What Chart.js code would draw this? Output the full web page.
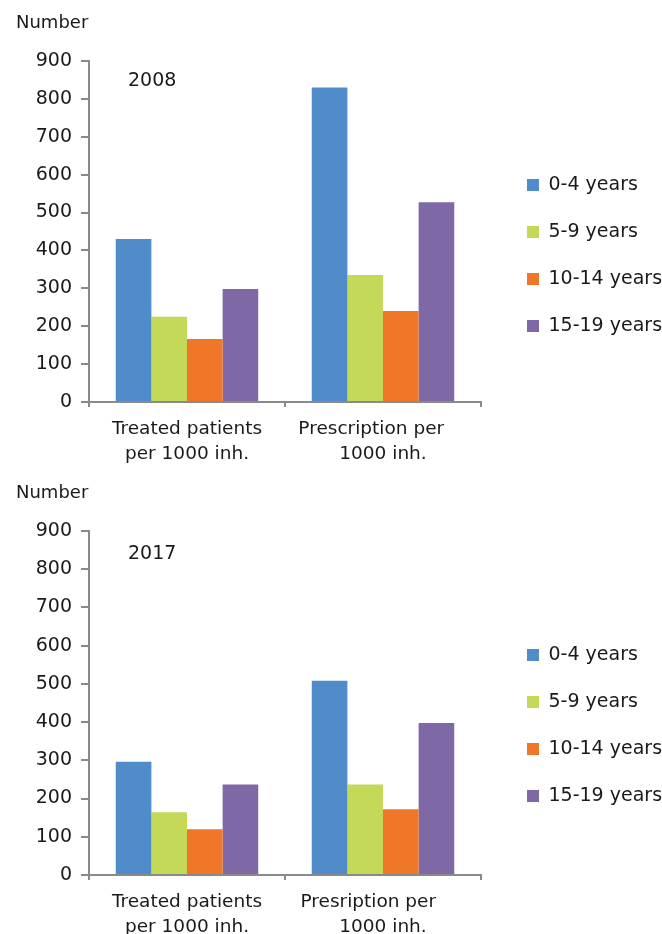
<!DOCTYPE html>
<html>
<head>
<meta charset="utf-8">
<script src="https://cdn.jsdelivr.net/npm/chart.js@4"></script>
<style>
  html, body { margin: 0; padding: 0; background: #fff; overflow: hidden; width: 662px; height: 934px; }
  .panel { position: absolute; left: 0; width: 720px; }
</style>
</head>
<body>
<div class="panel" style="top:0;height:470px"><canvas id="chart2008" width="720" height="470"></canvas></div>
<div class="panel" style="top:470px;height:464px"><canvas id="chart2017" width="720" height="464"></canvas></div>
<script>
const ageGroups = ["0-4 years", "5-9 years", "10-14 years", "15-19 years"];
const colores = ["#508CC9", "#C4D957", "#F07628", "#7E68A6"];

const categorias2008 = [["Treated patients", "per 1000 inh."], ["Prescription per    ", "1000 inh."]];
const categorias2017 = [["Treated patients", "per 1000 inh."], ["Presription per     ", "1000 inh."]];

// valores por grupo de edad: [tratados, prescripciones]
const edad0a4_2008 = [430, 830];
const edad5a9_2008 = [225, 335];
const edad10a14_2008 = [166, 240];
const edad15a19_2008 = [298, 527];

const edad0a4_2017 = [296, 508];
const edad5a9_2017 = [164, 237];
const edad10a14_2017 = [120, 172];
const edad15a19_2017 = [237, 398];

const yTicks = [0, 100, 200, 300, 400, 500, 600, 700, 800, 900];

const fuente = "'DejaVu Sans', sans-serif";
Chart.defaults.font.family = fuente;
Chart.defaults.color = "#1a1a1a";

// ancho de la leyenda para dejar el eje x terminando en x=481
const anchoCanvas = 720;
const legendaIzq = 499;
const medidor = document.createElement("canvas").getContext("2d");
medidor.font = "19px " + fuente;
const textoMax = Math.max(...ageGroups.map((t) => medidor.measureText(t).width));
const anchoLeyenda = 28 + 12 + 9.5 + textoMax + 10;
const paddingDer = anchoCanvas - legendaIzq - anchoLeyenda;

const etiquetaAño = {
  id: "etiquetaAño",
  afterDraw(chart, args, opts) {
    const ctx = chart.ctx;
    ctx.save();
    ctx.font = "19px " + fuente;
    ctx.fillStyle = "#1a1a1a";
    ctx.textBaseline = "middle";
    ctx.fillText(opts.text, chart.chartArea.left + opts.dx, chart.chartArea.top + opts.dy);
    ctx.restore();
  },
};

function crearGrafico(id, año, categorias, series, xAltura, dy) {
  const ctx = document.getElementById(id).getContext("2d");
  return new Chart(ctx, {
    type: "bar",
    data: {
      labels: categorias,
      datasets: series.map((s, i) => ({
        label: ageGroups[i],
        data: s,
        backgroundColor: colores[i],
        borderWidth: 0,
        barPercentage: 1.0,
        categoryPercentage: 0.727,
      })),
    },
    plugins: [etiquetaAño],
    options: {
      responsive: false,
      animation: false,
      devicePixelRatio: 1,
      layout: { padding: { left: 16, right: paddingDer, top: 0, bottom: 0 } },
      scales: {
        x: {
          grid: { drawOnChartArea: false, drawTicks: true, tickLength: 5, color: "#8a8a8a", lineWidth: 2 },
          border: { color: "#8a8a8a", width: 2 },
          ticks: { font: { size: 18.5, lineHeight: 1.38 }, padding: 9, maxRotation: 0, autoSkip: false },
          afterFit: (s) => { s.height = xAltura; },
        },
        y: {
          min: 0,
          max: 900,
          afterBuildTicks: (s) => { s.ticks = yTicks.map((v) => ({ value: v })); },
          grid: { drawOnChartArea: false, drawTicks: true, tickLength: 8, color: "#8a8a8a", lineWidth: 2 },
          border: { color: "#8a8a8a", width: 2 },
          ticks: { font: { size: 19 }, padding: 9 },
          afterFit: (s) => { s.width = 73; },
        },
        y2: {
          position: "right",
          display: true,
          grid: { display: false },
          border: { display: false },
          ticks: { display: false },
          afterFit: (s) => { s.width = 18; },
        },
      },
      plugins: {
        title: {
          display: true,
          text: "Number",
          align: "start",
          font: { size: 18, weight: "normal", lineHeight: 1.2 },
          color: "#1a1a1a",
          padding: { top: 13, bottom: 26.4 },
        },
        legend: {
          position: "right",
          align: "start",
          maxWidth: 400,
          title: { display: true, text: "", font: { size: 10, lineHeight: 1 }, padding: { top: 137.5, bottom: 0 } },
          labels: { boxWidth: 12, boxHeight: 12, padding: 28, font: { size: 19 }, color: "#1a1a1a" },
        },
        tooltip: { enabled: false },
        etiquetaAño: { text: año, dx: 39, dy: dy },
      },
    },
  });
}

crearGrafico("chart2008", "2008", categorias2008,
  [edad0a4_2008, edad5a9_2008, edad10a14_2008, edad15a19_2008], 68, 20);
crearGrafico("chart2017", "2017", categorias2017,
  [edad0a4_2017, edad5a9_2017, edad10a14_2017, edad15a19_2017], 59, 23);
</script>
</body>
</html>
